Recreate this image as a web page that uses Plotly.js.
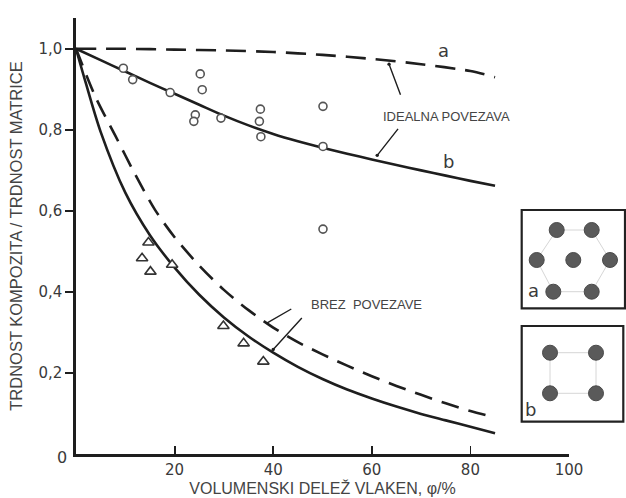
<!DOCTYPE html>
<html>
<head>
<meta charset="utf-8">
<script src="https://cdn.plot.ly/plotly-3.0.1.min.js"></script>
<style>html,body{margin:0;padding:0;background:#fff;}#chart{width:626px;height:498px;}</style>
</head>
<body>
<div id="chart"></div>
<script>
// ---- data ----
const xA = [0, 10, 20, 30, 40, 50, 60, 70, 80, 85];
const yA = [1.0, 1.0, 0.998, 0.996, 0.992, 0.985, 0.975, 0.962, 0.945, 0.93];

const xB = [0, 5, 10, 15, 20, 25, 30, 35, 40, 45, 50, 55, 60, 65, 70, 75, 80, 85];
const yB = [1.0, 0.972, 0.944, 0.916, 0.889, 0.862, 0.835, 0.811, 0.79, 0.772, 0.756, 0.741, 0.727, 0.713, 0.70, 0.687, 0.674, 0.662];

const xNoBondDash = [0, 4, 8, 12, 16, 20, 25, 30, 35, 40, 45, 50, 55, 60, 65, 70, 75, 80, 85];
const yNoBondDash = [1.0, 0.88, 0.785, 0.69, 0.603, 0.535, 0.465, 0.405, 0.355, 0.312, 0.276, 0.246, 0.218, 0.192, 0.168, 0.146, 0.125, 0.106, 0.09];

const xNoBondSolid = [0, 2, 5, 10, 15, 20, 25, 30, 35, 40, 45, 50, 55, 60, 65, 70, 75, 80, 85];
const yNoBondSolid = [1.0, 0.915, 0.795, 0.645, 0.54, 0.46, 0.393, 0.337, 0.29, 0.25, 0.215, 0.185, 0.159, 0.137, 0.117, 0.099, 0.083, 0.067, 0.051];

const xCircles = [9.6, 11.5, 19.1, 25.2, 25.6, 24.2, 23.9, 29.4, 37.4, 37.2, 37.5, 50.1, 50.1, 50.1];
const yCircles = [0.952, 0.924, 0.892, 0.938, 0.899, 0.837, 0.821, 0.829, 0.851, 0.821, 0.783, 0.858, 0.759, 0.555];

const xTriangles = [14.7, 13.4, 15.1, 19.5, 29.9, 34.0, 38.0];
const yTriangles = [0.522, 0.483, 0.45, 0.467, 0.316, 0.273, 0.228];

const yTickVals = [0.2, 0.4, 0.6, 0.8, 1.0];
const yTickText = ['0,2', '0,4', '0,6', '0,8', '1,0'];
const xTickVals = [20, 40, 60, 80, 100];
const xTickText = ['20', '40', '60', '80', '100'];

// ---- layout geometry ----
const W = 626, H = 498;
const M = {l: 76, r: 57, t: 18, b: 44};
const PW = W - M.l - M.r, PH = H - M.t - M.b;
const px = v => (v - M.l) / PW;          // pixel x -> paper
const py = v => (H - M.b - v) / PH;      // pixel y -> paper

const ink = '#1e1e1e';
const txt = '#3a3a3a';

const traces = [
  {x: xA, y: yA, mode: 'lines', line: {color: ink, width: 2.6, dash: '20px,10px', shape: 'spline', smoothing: 0.8}, hoverinfo: 'skip'},
  {x: xB, y: yB, mode: 'lines', line: {color: ink, width: 2.6, shape: 'spline', smoothing: 0.8}, hoverinfo: 'skip'},
  {x: xNoBondDash, y: yNoBondDash, mode: 'lines', line: {color: ink, width: 2.6, dash: '18px,10px', shape: 'spline', smoothing: 0.8}, hoverinfo: 'skip'},
  {x: xNoBondSolid, y: yNoBondSolid, mode: 'lines', line: {color: ink, width: 2.6, shape: 'spline', smoothing: 0.8}, hoverinfo: 'skip'},
  {x: xCircles, y: yCircles, mode: 'markers', marker: {symbol: 'circle', size: 8, color: '#fff', line: {color: '#555', width: 1.6}}},
  {x: xTriangles, y: yTriangles, mode: 'markers', marker: {symbol: 'triangle-up', size: 10, color: '#fff', line: {color: '#333', width: 1.6}}}
];

// inset diagrams (decorative)
const boxA = [521.7, 210, 625, 308.3];
const boxB = [521.7, 326, 623.3, 421.7];
const hexPts = [[556.7, 230], [591.7, 230], [610, 260], [591.7, 291.7], [553.3, 291.7], [536.7, 260]];
const hexCenter = [573.3, 260];
const sqPts = [[550, 352.7], [596, 352.7], [596, 393.3], [550, 393.3]];
const R = 7.5;

const shapes = [];
function rect(b) {
  shapes.push({type: 'rect', xref: 'paper', yref: 'paper', x0: px(b[0]), x1: px(b[2]), y0: py(b[3]), y1: py(b[1]),
    line: {color: '#222', width: 2.2}, fillcolor: '#fff', layer: 'above'});
}
function poly(pts) {
  let p = '';
  pts.forEach((q, i) => { p += (i ? 'L' : 'M') + px(q[0]) + ',' + py(q[1]); });
  p += 'Z';
  shapes.push({type: 'path', xref: 'paper', yref: 'paper', path: p, line: {color: '#d6d6d6', width: 1}, layer: 'above'});
}
function dot(q) {
  shapes.push({type: 'circle', xref: 'paper', yref: 'paper', x0: px(q[0] - R), x1: px(q[0] + R), y0: py(q[1] + R), y1: py(q[1] - R),
    fillcolor: '#5a5a5a', line: {color: '#4a4a4a', width: 1}, layer: 'above'});
}
rect(boxA); rect(boxB);
poly(hexPts); poly(sqPts);
hexPts.forEach(dot); dot(hexCenter); sqPts.forEach(dot);

const noteFont = {family: 'Liberation Sans Narrow, Arial Narrow, sans-serif', size: 13, color: '#444'};
const lblFont = {family: 'DejaVu Sans, sans-serif', size: 18, color: txt};
const annotations = [
  {x: 74.5, y: 0.995, text: 'a', showarrow: false, font: lblFont},
  {x: 75.5, y: 0.722, text: 'b', showarrow: false, font: lblFont},
  {x: 75.1, y: 0.833, text: 'IDEALNA POVEZAVA', showarrow: false, font: noteFont},
  {x: 63.5, y: 0.962, text: '', showarrow: true, arrowhead: 6, arrowsize: 0.6, arrowwidth: 1.4, arrowcolor: ink, ax: 12, ay: 32, standoff: 0},
  {x: 61.1, y: 0.737, text: '', showarrow: true, arrowhead: 6, arrowsize: 0.6, arrowwidth: 1.4, arrowcolor: ink, ax: 22, ay: -28, standoff: 0},
  {x: 58.9, y: 0.370, text: 'BREZ  POVEZAVE', showarrow: false, font: noteFont},
  {x: 38.7, y: 0.323, text: '', showarrow: true, arrowhead: 0, arrowwidth: 1.4, arrowcolor: ink, ax: 26, ay: -15, standoff: 0},
  {x: 40.0, y: 0.258, text: '', showarrow: true, arrowhead: 6, arrowsize: 0.6, arrowwidth: 1.4, arrowcolor: ink, ax: 30, ay: -33, standoff: 0},
  {xref: 'paper', x: px(62), y: 0, yshift: -3, xanchor: 'center', text: '0', showarrow: false, font: {family: 'DejaVu Sans, sans-serif', size: 16, color: txt}},
  {xref: 'paper', yref: 'paper', x: px(533.3), y: py(290), xanchor: 'center', yanchor: 'middle', text: 'a', showarrow: false, font: lblFont},
  {xref: 'paper', yref: 'paper', x: px(530), y: py(409), xanchor: 'center', yanchor: 'middle', text: 'b', showarrow: false, font: lblFont}
];

const layout = {
  width: W, height: H,
  margin: M,
  paper_bgcolor: '#fff', plot_bgcolor: '#fff',
  showlegend: false,
  xaxis: {
    range: [0, 100], showgrid: false, zeroline: false, showline: true, linecolor: ink, linewidth: 2.6,
    ticks: 'inside', ticklen: 8, tickwidth: 1.8, tickcolor: ink,
    tickvals: xTickVals, ticktext: xTickText,
    tickfont: {family: 'DejaVu Sans, sans-serif', size: 15, color: txt},
    title: {text: 'VOLUMENSKI DELEŽ VLAKEN, φ/%', standoff: 6,
      font: {family: 'Liberation Sans Narrow, Arial Narrow, sans-serif', size: 16, color: '#444'}},
    automargin: false, fixedrange: true
  },
  yaxis: {
    range: [0, 1.076], showgrid: false, zeroline: false, showline: true, linecolor: ink, linewidth: 2.6,
    ticks: 'outside', ticklen: 8, tickwidth: 1.8, tickcolor: ink,
    tickvals: yTickVals, ticktext: yTickText,
    tickfont: {family: 'DejaVu Sans, sans-serif', size: 15, color: txt},
    title: {text: 'TRDNOST KOMPOZITA / TRDNOST MATRICE', standoff: 12,
      font: {family: 'Liberation Sans Narrow, Arial Narrow, sans-serif', size: 16.5, color: '#444'}},
    automargin: false, fixedrange: true
  },
  shapes: shapes,
  annotations: annotations
};

Plotly.newPlot('chart', traces, layout, {displayModeBar: false, staticPlot: true});
</script>
</body>
</html>
